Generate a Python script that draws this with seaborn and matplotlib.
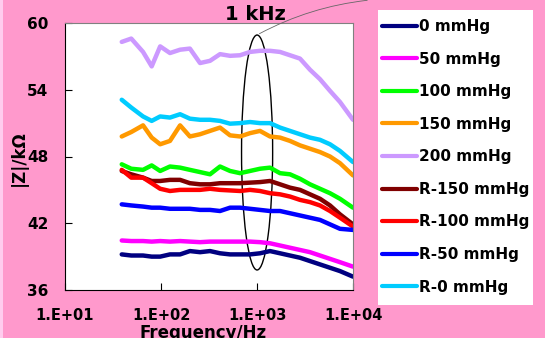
import numpy as np
import pandas as pd
import seaborn as sns
import matplotlib.pyplot as plt
from matplotlib.patches import Ellipse, Rectangle

# ---------- data ----------
freq_hz = [39, 49, 65, 80, 98, 124, 158, 200, 255, 324, 412, 524,
           666, 846, 1075, 1366, 1737, 2207, 2805, 3565, 4531, 5760, 7320, 10000]

z_0 = [39.2, 39.1, 39.1, 39.0, 39.0, 39.2, 39.2, 39.5, 39.4, 39.5, 39.3, 39.2,
       39.2, 39.2, 39.3, 39.5, 39.3, 39.1, 38.9, 38.6, 38.3, 38.0, 37.7, 37.2]
z_50 = [40.45, 40.4, 40.4, 40.35, 40.4, 40.35, 40.4, 40.35, 40.3, 40.35, 40.35, 40.35,
        40.35, 40.35, 40.3, 40.2, 40.0, 39.8, 39.6, 39.4, 39.1, 38.8, 38.5, 38.1]
z_100 = [47.3, 46.9, 46.8, 47.2, 46.7, 47.1, 47.0, 46.8, 46.6, 46.4, 47.1, 46.7,
         46.5, 46.7, 46.9, 47.0, 46.5, 46.4, 46.0, 45.5, 45.1, 44.7, 44.2, 43.4]
z_150 = [49.8, 50.2, 50.8, 49.7, 49.1, 49.4, 50.8, 49.8, 50.0, 50.3, 50.6, 49.9,
         49.8, 50.1, 50.3, 49.8, 49.7, 49.4, 49.0, 48.7, 48.4, 48.0, 47.4, 46.3]
z_200 = [58.3, 58.6, 57.4, 56.1, 57.9, 57.3, 57.6, 57.7, 56.4, 56.6, 57.2, 57.05,
         57.1, 57.4, 57.5, 57.5, 57.4, 57.1, 56.8, 55.8, 54.95, 53.9, 52.9, 51.3]
z_r150 = [46.7, 46.4, 46.1, 45.8, 45.8, 45.9, 45.9, 45.6, 45.5, 45.5, 45.6, 45.6,
          45.6, 45.65, 45.7, 45.8, 45.5, 45.2, 45.0, 44.6, 44.2, 43.6, 42.8, 41.9]
z_r100 = [46.8, 46.1, 46.1, 45.6, 45.1, 44.9, 45.0, 45.0, 45.0, 45.1, 45.0, 44.95,
          44.9, 45.0, 44.9, 44.7, 44.6, 44.4, 44.1, 43.9, 43.6, 43.1, 42.5, 41.7]
z_r50 = [43.7, 43.6, 43.5, 43.4, 43.4, 43.3, 43.3, 43.3, 43.2, 43.2, 43.1, 43.4,
         43.4, 43.3, 43.2, 43.1, 43.1, 42.9, 42.7, 42.5, 42.3, 41.9, 41.5, 41.4]
z_r0 = [53.1, 52.4, 51.6, 51.2, 51.6, 51.5, 51.8, 51.4, 51.3, 51.3, 51.2, 50.95,
        51.0, 51.1, 51.0, 51.0, 50.6, 50.3, 50.0, 49.7, 49.5, 49.1, 48.5, 47.5]

series_names = ["0 mmHg", "50 mmHg", "100 mmHg", "150 mmHg", "200 mmHg",
                "R-150 mmHg", "R-100 mmHg", "R-50 mmHg", "R-0 mmHg"]
series_values = [z_0, z_50, z_100, z_150, z_200, z_r150, z_r100, z_r50, z_r0]
series_colors = ["#000080", "#FF00FF", "#00FF00", "#FF9900", "#CC99FF",
                 "#800000", "#FF0000", "#0000FF", "#00CCFF"]

x_ticks = [10, 100, 1000, 10000]
x_tick_labels = ["1.E+01", "1.E+02", "1.E+03", "1.E+04"]
y_ticks = [36, 42, 48, 54, 60]

# ---------- plot ----------
sns.set_style("ticks", {"xtick.direction": "in", "ytick.direction": "in",
                        "text.color": "black", "axes.labelcolor": "black",
                        "xtick.color": "black", "ytick.color": "black"})
plt.rcParams["font.family"] = ["DejaVu Sans"]
plt.rcParams["font.weight"] = "bold"

fig = plt.figure(figsize=(5.45, 3.38), dpi=100, facecolor="#FF99CC")
fig.add_artist(Rectangle((0, 0), 3 / 545, 1, transform=fig.transFigure,
                         facecolor="#FFCCEE", edgecolor="none", zorder=-1))
# white legend panel (behind the legend)
fig.add_artist(Rectangle((378 / 545, 1 - 305 / 338), 155 / 545, 295 / 338,
                         transform=fig.transFigure, facecolor="white",
                         edgecolor="none", zorder=-1))
ax = fig.add_axes([65 / 545, 48 / 338, 288 / 545, 267 / 338])
ax.set_facecolor("white")

for name, vals, col in zip(series_names, series_values, series_colors):
    sns.lineplot(x=freq_hz, y=vals, color=col, label=name, lw=3.2, ax=ax)

ax.set_xscale("log")
ax.set_xlim(10, 10000)
ax.set_ylim(36, 60)
ax.set_xticks(x_ticks)
ax.set_xticklabels(x_tick_labels)
ax.minorticks_off()
ax.set_yticks(y_ticks)
ax.tick_params(axis="y", labelsize=11, pad=12, length=5, width=0.8)
ax.tick_params(axis="x", labelsize=10.5, pad=13, length=5, width=0.8)
for t in ax.get_xticklabels() + ax.get_yticklabels():
    t.set_fontweight("bold")

for side in ["left", "bottom"]:
    ax.spines[side].set_color("black")
    ax.spines[side].set_linewidth(0.8)
for side in ["top", "right"]:
    ax.spines[side].set_visible(True)
    ax.spines[side].set_color("#808080")
    ax.spines[side].set_linewidth(0.8)

ax.set_xlabel("Frequency/Hz", fontsize=12, fontweight="bold")
ax.xaxis.set_label_coords(0.479, -0.126)
ax.set_ylabel("|Z|/kΩ", fontsize=12, fontweight="bold")
ax.yaxis.set_label_coords(-0.13, 0.494)

# 1 kHz marker
ax.add_patch(Ellipse((0.667, 0.515), 0.108, 0.88, transform=ax.transAxes,
                     fill=False, edgecolor="black", lw=1.0))
ax.annotate("", xy=(370, 338), xycoords="figure pixels",
            xytext=(257, 303), textcoords="figure pixels",
            arrowprops=dict(arrowstyle="-", color="#666666", lw=0.6,
                            connectionstyle="arc3,rad=-0.1"))
fig.text(255.5 / 545, 1 - 14.5 / 338, "1 kHz", ha="center", va="center",
         fontsize=14, fontweight="bold")

leg = ax.legend(loc="upper left", bbox_to_anchor=(382 / 545, 1 - 19 / 338),
                bbox_transform=fig.transFigure, frameon=False,
                fontsize=11, handlelength=2.3, handletextpad=0.15,
                labelspacing=1.15, borderpad=0, borderaxespad=0)
for h in leg.get_lines():
    h.set_linewidth(3)
for t in leg.get_texts():
    t.set_fontweight("bold")
    t.set_color("black")

fig.savefig("out.png", dpi=100, facecolor=fig.get_facecolor())
